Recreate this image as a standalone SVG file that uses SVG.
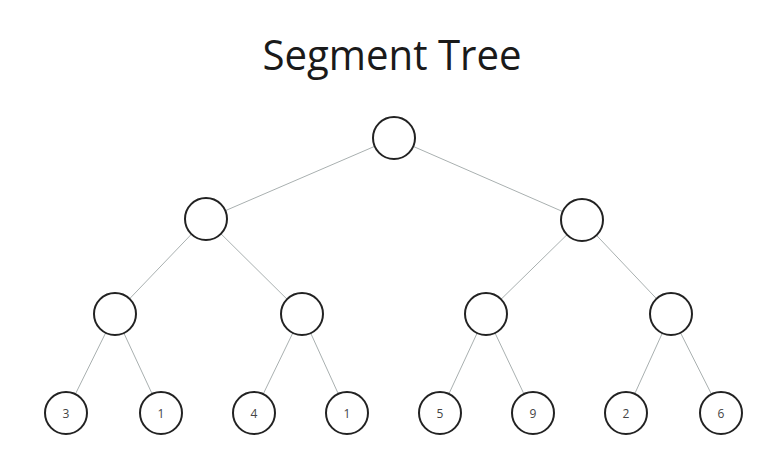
<svg xmlns="http://www.w3.org/2000/svg" width="780" height="467" viewBox="0 0 780 467">
<style>
.n{fill:#fff;stroke:#222;stroke-width:2}
.e{stroke:#a9b0b0;stroke-width:1;fill:none}
.t{font-family:"Open Sans","Noto Sans",sans-serif;font-size:12px;fill:#444;text-anchor:middle;dominant-baseline:central}
.title{font-family:"Open Sans","Noto Sans",sans-serif;font-size:42px;fill:#1a1a1a;text-anchor:middle}
</style>
<rect width="780" height="467" fill="#fff"/>
<text class="title" x="392" y="70" textLength="259" lengthAdjust="spacingAndGlyphs">Segment Tree</text>
<g id="connectors">
<line class="e" x1="394" y1="138" x2="206" y2="219"/>
<line class="e" x1="394" y1="138" x2="582" y2="220"/>
<line class="e" x1="206" y1="219" x2="115" y2="314"/>
<line class="e" x1="206" y1="219" x2="302" y2="314"/>
<line class="e" x1="582" y1="220" x2="486" y2="314"/>
<line class="e" x1="582" y1="220" x2="671" y2="314"/>
<line class="e" x1="115" y1="314" x2="66" y2="413"/>
<line class="e" x1="115" y1="314" x2="161" y2="413"/>
<line class="e" x1="302" y1="314" x2="254" y2="413"/>
<line class="e" x1="302" y1="314" x2="347" y2="413"/>
<line class="e" x1="486" y1="314" x2="440" y2="413"/>
<line class="e" x1="486" y1="314" x2="533" y2="413"/>
<line class="e" x1="671" y1="314" x2="626" y2="413"/>
<line class="e" x1="671" y1="314" x2="721" y2="413"/>
</g>
<g id="root"><circle class="n" cx="394" cy="138" r="21"/></g>
<g id="l2a"><circle class="n" cx="206" cy="219" r="21"/></g>
<g id="l2b"><circle class="n" cx="582" cy="220" r="21"/></g>
<g id="l3a"><circle class="n" cx="115" cy="314" r="21"/></g>
<g id="l3b"><circle class="n" cx="302" cy="314" r="21"/></g>
<g id="l3c"><circle class="n" cx="486" cy="314" r="21"/></g>
<g id="l3d"><circle class="n" cx="671" cy="314" r="21"/></g>
<g id="leaf1"><circle class="n" cx="66" cy="413" r="21"/><text class="t" x="66" y="413">3</text></g>
<g id="leaf2"><circle class="n" cx="161" cy="413" r="21"/><text class="t" x="161" y="413">1</text></g>
<g id="leaf3"><circle class="n" cx="254" cy="413" r="21"/><text class="t" x="254" y="413">4</text></g>
<g id="leaf4"><circle class="n" cx="347" cy="413" r="21"/><text class="t" x="347" y="413">1</text></g>
<g id="leaf5"><circle class="n" cx="440" cy="413" r="21"/><text class="t" x="440" y="413">5</text></g>
<g id="leaf6"><circle class="n" cx="533" cy="413" r="21"/><text class="t" x="533" y="413">9</text></g>
<g id="leaf7"><circle class="n" cx="626" cy="413" r="21"/><text class="t" x="626" y="413">2</text></g>
<g id="leaf8"><circle class="n" cx="721" cy="413" r="21"/><text class="t" x="721" y="413">6</text></g>
</svg>
